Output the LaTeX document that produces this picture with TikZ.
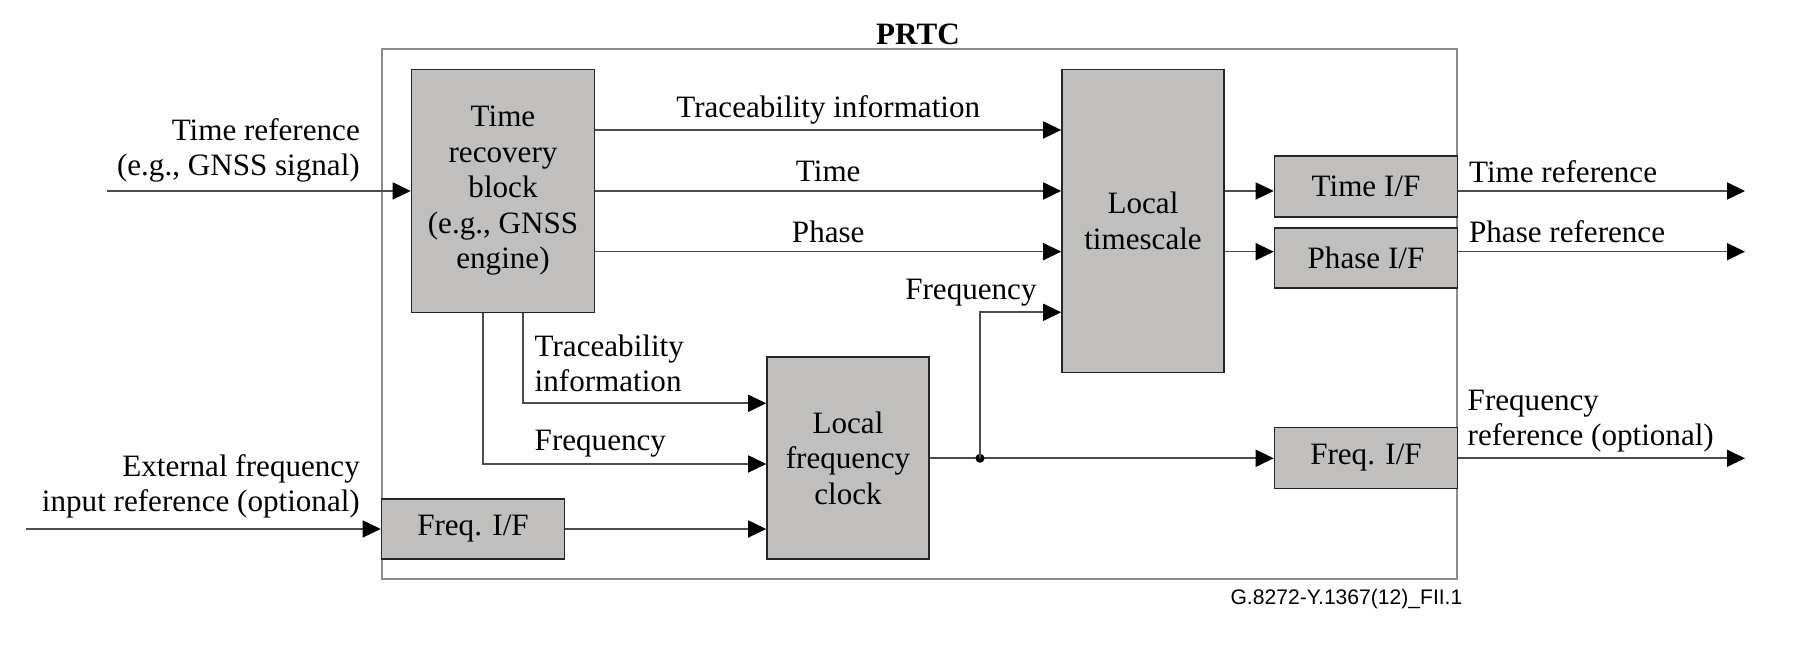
\documentclass[tikz,border=0pt]{standalone}
\usepackage{fontspec}
\setmainfont{Liberation Serif}
\setsansfont{Liberation Sans}
\usepackage{tikz}
\usetikzlibrary{arrows.meta}
\definecolor{blkgray}{RGB}{192,191,189}

\begin{document}
\begin{tikzpicture}[>={Triangle[length=1.8mm,width=1.7mm,color=black]},
	font=\fontsize{8.85}{10.1}\selectfont,
	blk/.style={draw=black!85, line width=0.45pt, fill=blkgray, inner sep=0pt, align=center},
	wire/.style={draw=black!70, line width=0.45pt},
	lbl/.style={inner sep=0pt, anchor=base}]
	\useasboundingbox (0,0) rectangle (17.98,6.48);
	\draw[black!45, line width=0.4pt] (3.82,0.69) rectangle (14.57,5.99);
	\node[font=\fontsize{8.85}{10.1}\selectfont\bfseries, lbl] (prtc) at (9.18,6.03) {PRTC};

	\node[blk, minimum width=1.83cm, minimum height=2.43cm] (trb) at (5.03,4.57) {Time\\recovery\\block\\(e.g., GNSS\\engine)};
	\node[blk, minimum width=1.62cm, minimum height=3.03cm] (lts) at (11.43,4.27) {Local\\timescale};
	\node[blk, minimum width=1.62cm, minimum height=2.02cm] (lfc) at (8.48,1.90) {Local\\frequency\\clock};
	\node[blk, minimum width=1.83cm, minimum height=0.61cm] (tif) at (13.66,4.613) {Time I/F};
	\node[blk, minimum width=1.83cm, minimum height=0.60cm] (pif) at (13.66,3.90) {Phase I/F};
	\node[blk, minimum width=1.83cm, minimum height=0.61cm] (rfif) at (13.66,1.90) {Freq. I/F};
	\node[blk, minimum width=1.83cm, minimum height=0.60cm] (lfif) at (4.73,1.19) {Freq. I/F};

	\coordinate (tin) at (1.07,4.57);
	\coordinate (xin) at (0.26,1.19);
	\coordinate (tr) at (0,5.18);
	\coordinate (tm) at (0,4.57);
	\coordinate (ph) at (0,3.963);
	\coordinate (fq) at (0,3.357);
	\coordinate (tap) at (9.80,1.897);
	\coordinate (tout) at (17.45,4.57);
	\coordinate (pout) at (17.45,3.963);
	\coordinate (fout) at (17.45,1.897);

	\draw[wire,->] (tin) -- (trb.west |- tin);
	\node[lbl, anchor=south east, align=right] (tinl) at (3.605,4.65) {Time reference\\(e.g., GNSS signal)};
	\draw[wire,->] (xin) -- (lfif.west);
	\node[lbl, anchor=south east, align=right] (xinl) at (3.605,1.29) {External frequency\\input reference (optional)};

	\draw[wire,->] (trb.east |- tr) -- node[lbl, yshift=1.2mm] {Traceability information} (lts.west |- tr);
	\draw[wire,->] (trb.east |- tm) -- node[lbl, yshift=0.9mm] {Time} (lts.west |- tm);
	\draw[wire,->] (trb.east |- ph) -- node[lbl, yshift=0.9mm] {Phase} (lts.west |- ph);

	\draw[wire,->] ([xshift=2mm]trb.south) |- ([yshift=5.47mm]lfc.west);
	\node[lbl, anchor=south west, align=left] (trcl) at (5.34,2.55) {Traceability\\information};
	\draw[wire,->] ([xshift=-2mm]trb.south) |- ([yshift=-0.6mm]lfc.west);
	\node[lbl, anchor=base west] (frql) at (5.34,1.97) {Frequency};
	\draw[wire,->] (lfif) -- (lfc.west |- lfif);

	\draw[wire,->] (lfc.east |- tap) -- (rfif.west |- tap);
	\fill (tap) circle (0.045);
	\draw[wire,->] (tap) |- (lts.west |- fq);
	\node[lbl, anchor=base west] (frqu) at (9.046,3.48) {Frequency};

	\draw[wire,->] (lts.east |- tm) -- (tif.west |- tm);
	\draw[wire,->] (lts.east |- ph) -- (pif.west |- ph);
	\draw[wire,->] (tif.east |- tm) -- node[lbl, at start, anchor=base west, xshift=1mm, yshift=0.8mm] {Time reference} (tout);
	\draw[wire,->] (pif.east |- ph) -- node[lbl, at start, anchor=base west, xshift=1mm, yshift=0.9mm] {Phase reference} (pout);
	\draw[wire,->] (rfif.east |- fout) -- (fout);
	\node[lbl, anchor=south west, align=left] (foutl) at (14.67,1.95) {Frequency\\reference (optional)};

	\node[lbl, anchor=base east, font=\sffamily\fontsize{6}{7}\selectfont] (fig) at (14.63,0.43) {G.8272-Y.1367(12)\_FII.1};
\end{tikzpicture}
\end{document}
